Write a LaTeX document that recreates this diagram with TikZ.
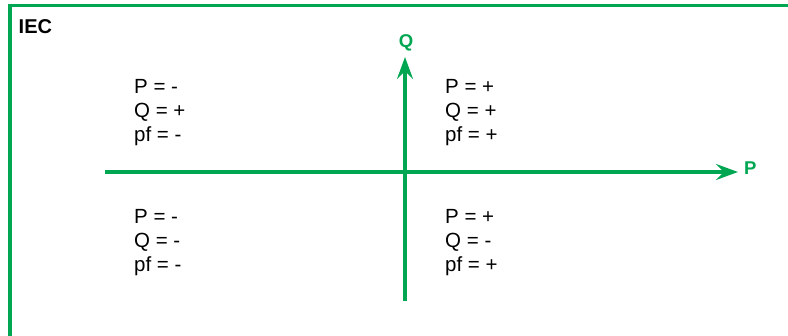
\documentclass[tikz,border=0pt]{standalone}
\usepackage{fontspec}
\setmainfont{Liberation Sans}
\usetikzlibrary{arrows.meta}
\definecolor{iecgreen}{RGB}{0,166,81}
\tikzset{
  axisline/.style={draw=iecgreen, line width=3.3pt, -{Stealth[length=22pt,width=16pt,inset=8pt]}},
  frameline/.style={draw=iecgreen, line width=3.6pt},
  qtext/.style={anchor=base west, inner sep=0pt, font=\fontsize{20.5}{24}\selectfont, text=black},
  axlabel/.style={inner sep=0pt, font=\bfseries\fontsize{18.5}{21}\selectfont, text=iecgreen},
}
\begin{document}
\begin{tikzpicture}[x=1pt,y=-1pt]
\useasboundingbox (0,0) rectangle (788,336);
% frame
\draw[frameline] (10,340) -- (10,5.5) -- (795,5.5);
\node[anchor=base west, inner sep=0pt, font=\bfseries\fontsize{20}{24}\selectfont] (iec) at (18.5,33.5) {IEC};
% axes
\coordinate (xs) at (105,172);
\coordinate (xe) at (738,172);
\coordinate (ys) at (405,301);
\coordinate (ye) at (405,57);
\draw[axisline] (xs) -- (xe);
\draw[axisline] (ys) -- (ye);
\node[axlabel, anchor=base west] (plab) at (744,174.5) {P};
\node[axlabel, anchor=base] (qlab) at (406,47.5) {Q};
% quadrant II
\node[qtext] (a1) at (134,93.5) {P = -};
\node[qtext] (a2) at (134,117.5) {Q = +};
\node[qtext] (a3) at (134,141.5) {pf = -};
% quadrant I
\node[qtext] (b1) at (445,93.5) {P = +};
\node[qtext] (b2) at (445,117.5) {Q = +};
\node[qtext] (b3) at (445,141.5) {pf = +};
% quadrant III
\node[qtext] (c1) at (134,223.5) {P = -};
\node[qtext] (c2) at (134,247.5) {Q = -};
\node[qtext] (c3) at (134,271.5) {pf = -};
% quadrant IV
\node[qtext] (d1) at (445,223.5) {P = +};
\node[qtext] (d2) at (445,247.5) {Q = -};
\node[qtext] (d3) at (445,271.5) {pf = +};
\end{tikzpicture}
\end{document}
